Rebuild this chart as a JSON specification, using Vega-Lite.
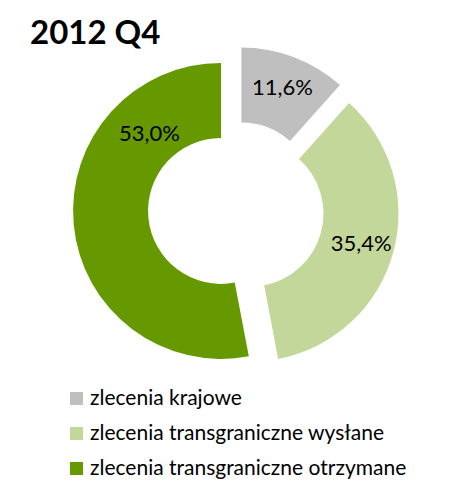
{
  "$schema": "https://vega.github.io/schema/vega-lite/v6.json",
  "width": 472,
  "height": 315,
  "autosize": "none",
  "padding": {"left": 0, "right": 0, "top": 52, "bottom": 121},
  "background": "white",
  "title": {
    "text": "2012 Q4",
    "anchor": "start",
    "frame": "group",
    "dx": 30,
    "dy": 10,
    "offset": 6,
    "font": "Lato",
    "fontSize": 33,
    "fontWeight": "bold",
    "color": "black"
  },
  "data": {
    "values": [
      {"category": "zlecenia krajowe", "share": 0.116},
      {"category": "zlecenia transgraniczne wysłane", "share": 0.354},
      {"category": "zlecenia transgraniczne otrzymane", "share": 0.53}
    ]
  },
  "transform": [
    {"stack": "share", "groupby": [], "sort": [{"field": "share", "order": "ascending"}], "as": ["s0", "s1"]}
  ],
  "layer": [
    {
      "mark": {
        "type": "arc",
        "outerRadius": 148,
        "innerRadius": 73,
        "xOffset": {"expr": "15*sin(PI*(datum.s0+datum.s1))"},
        "yOffset": {"expr": "-15*cos(PI*(datum.s0+datum.s1))"}
      },
      "encoding": {
        "theta": {"field": "s0", "type": "quantitative", "scale": {"domain": [0, 1]}},
        "theta2": {"field": "s1"},
        "color": {
          "field": "category",
          "type": "nominal",
          "sort": ["zlecenia krajowe", "zlecenia transgraniczne wysłane", "zlecenia transgraniczne otrzymane"],
          "scale": {"range": ["#BFBFBF", "#C4D79B", "#669900"]},
          "legend": {
            "title": null,
            "orient": "none",
            "legendX": 66,
            "legendY": 336,
            "direction": "vertical",
            "symbolType": "square",
            "symbolSize": 169,
            "symbolStrokeWidth": 0,
            "labelFont": "Lato",
            "labelFontSize": 21,
            "labelColor": "black",
            "labelOffset": 3,
            "rowPadding": 13,
            "labelLimit": 400
          }
        }
      }
    },
    {
      "mark": {
        "type": "text",
        "radius": {"expr": "datum.share > 0.5 ? 105 : 115"},
        "font": "Lato",
        "fontSize": 22,
        "color": "black",
        "theta": {"expr": "2*PI*(datum.s0 + datum.share*(datum.share > 0.5 ? 0.775 : 0.5))"},
        "xOffset": {"expr": "15*sin(PI*(datum.s0+datum.s1))"},
        "yOffset": {"expr": "-15*cos(PI*(datum.s0+datum.s1))"}
      },
      "encoding": {
        "text": {"field": "share", "type": "quantitative", "format": ".1%"}
      }
    }
  ],
  "config": {
    "view": {"stroke": null},
    "locale": {
      "number": {"decimal": ",", "thousands": " ", "grouping": [3], "currency": ["", " zł"]}
    }
  }
}
